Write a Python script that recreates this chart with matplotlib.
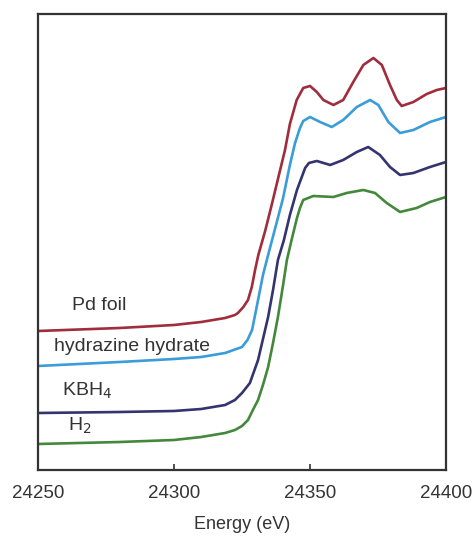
import numpy as np
import matplotlib
matplotlib.use('Agg')
from matplotlib import pyplot as plt

# Pd K-edge XANES (y in arbitrary units, curves offset)
energy_pd = [24250, 24280, 24300, 24310, 24318.8, 24322.4, 24323.5, 24325.5, 24327.2,
             24328.6, 24329.8, 24331.0, 24333.5, 24335.9, 24338.3, 24340.8, 24342.6,
             24345.1, 24347.5, 24350.0, 24352.5, 24354.9, 24358.6, 24362.2, 24365.9,
             24369.6, 24373.3, 24376.4, 24379.4, 24381.9, 24383.7, 24388.0, 24392.9,
             24396.6, 24400]
mu_pd = [1.39, 1.42, 1.45, 1.48, 1.52, 1.55, 1.57, 1.63, 1.70,
         1.83, 2.00, 2.15, 2.39, 2.65, 2.92, 3.20, 3.46,
         3.70, 3.82, 3.84, 3.78, 3.70, 3.65, 3.70, 3.88,
         4.05, 4.12, 4.05, 3.85, 3.70, 3.64, 3.68, 3.76,
         3.80, 3.82]

energy_hyd = [24250, 24280, 24300, 24310, 24318.8, 24325.0, 24327.0, 24328.7, 24330.9,
              24332.7, 24334.6, 24337.5, 24340.1, 24342.6, 24344.5, 24346.3, 24347.5,
              24350.0, 24353.7, 24358.0, 24362.2, 24367.2, 24372.1, 24375.1, 24378.8,
              24383.1, 24388.0, 24394.1, 24400]
mu_hyd = [1.04, 1.08, 1.11, 1.13, 1.17, 1.23, 1.30, 1.40, 1.70,
          1.95, 2.15, 2.45, 2.72, 3.05, 3.27, 3.42, 3.49,
          3.53, 3.48, 3.43, 3.50, 3.63, 3.70, 3.65, 3.48,
          3.37, 3.40, 3.48, 3.53]

energy_kbh = [24250, 24280, 24300, 24310, 24318.8, 24322.4, 24325.0, 24327.9, 24330.9,
              24334.6, 24336.4, 24338.2, 24340.4, 24342.6, 24345.2, 24348.2, 24349.6,
              24352.5, 24357.4, 24362.2, 24367.2, 24371.4, 24375.7, 24379.4, 24383.1,
              24388.0, 24394.1, 24400]
mu_kbh = [0.57, 0.58, 0.59, 0.61, 0.65, 0.70, 0.77, 0.87, 1.10,
          1.53, 1.80, 2.10, 2.30, 2.55, 2.80, 3.02, 3.07,
          3.09, 3.05, 3.10, 3.18, 3.23, 3.15, 3.03, 2.95,
          2.97, 3.03, 3.08]

energy_h2 = [24250, 24280, 24300, 24310, 24318.8, 24322.4, 24325.0, 24327.2, 24329.0,
             24330.9, 24332.7, 24334.6, 24336.4, 24338.2, 24340.1, 24341.5, 24343.4,
             24345.2, 24346.3, 24347.5, 24351.2, 24358.6, 24363.5, 24369.6, 24373.9,
             24378.2, 24383.1, 24389.2, 24394.1, 24400]
mu_h2 = [0.26, 0.28, 0.30, 0.33, 0.37, 0.40, 0.44, 0.50, 0.60,
         0.70, 0.85, 1.03, 1.27, 1.53, 1.85, 2.10, 2.32,
         2.52, 2.62, 2.70, 2.74, 2.73, 2.77, 2.80, 2.77,
         2.67, 2.58, 2.62, 2.68, 2.73]

labels = ['Pd foil', 'hydrazine hydrate', 'KBH$_4$', 'H$_2$']
colors = ['#a02c3c', '#3a9cd8', '#34346f', '#44883c']

plt.rcParams['font.family'] = ['Liberation Sans', 'DejaVu Sans']

fig = plt.figure(figsize=(4.73, 5.38), dpi=100)
ax = fig.add_axes([0.0803, 0.1264, 0.8627, 0.8476])

series = [(energy_pd, mu_pd), (energy_hyd, mu_hyd), (energy_kbh, mu_kbh), (energy_h2, mu_h2)]
for (e, m), c in zip(series, colors):
    ax.plot(e, m, color=c, lw=1.9, solid_capstyle='round', solid_joinstyle='round')

# labels sit just above the flat pre-edge part of each curve
label_pos = [(24262.5, 1.64), (24256, 1.23), (24259, 0.79), (24261, 0.44)]
for (x, y), t in zip(label_pos, labels):
    ax.text(x, y, t, fontsize=14, color='#333333', va='center', ha='left')

ax.set_xlim(24250, 24400)
ax.set_ylim(0, 4.56)
ax.set_xticks([24250, 24300, 24350, 24400])
ax.set_yticks([])
ax.tick_params(axis='x', direction='in', length=4, width=1.2, pad=11,
               labelsize=13.5, colors='#333333')
for s in ax.spines.values():
    s.set_linewidth(1.6)
    s.set_color('#333333')
ax.set_xlabel('Energy (eV)', fontsize=13, color='#333333', labelpad=10)

fig.savefig('out.png', dpi=100)
